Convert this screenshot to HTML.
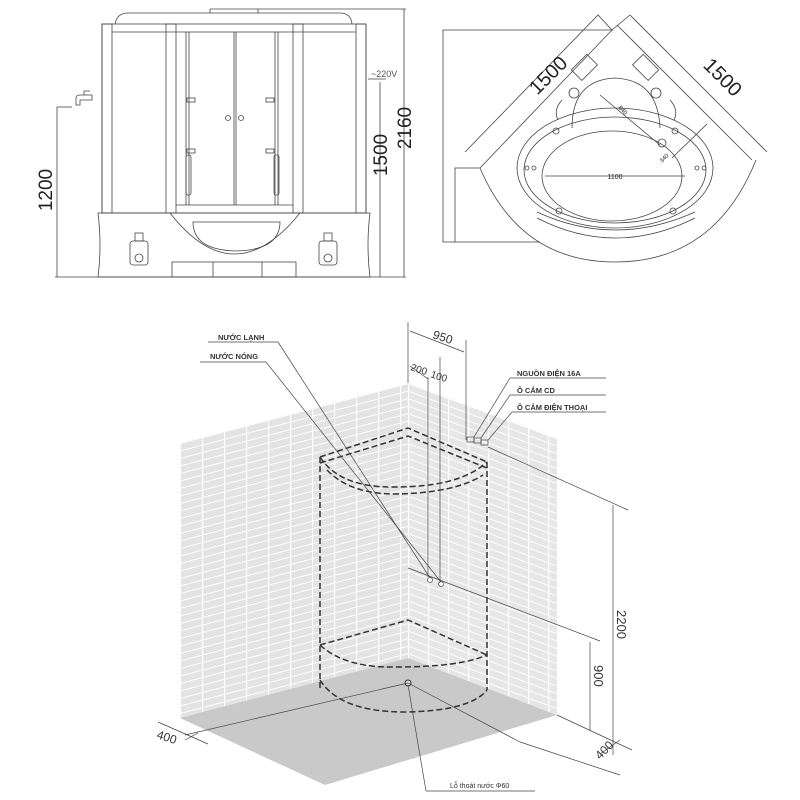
<!DOCTYPE html>
<html><head><meta charset="utf-8"><style>
html,body{margin:0;padding:0;background:#fff;}
svg{display:block;font-family:"Liberation Sans",sans-serif;}
</style></head><body>
<svg width="800" height="800" viewBox="0 0 800 800" xmlns="http://www.w3.org/2000/svg">
<defs>
<pattern id="tl" width="22" height="7.5" patternUnits="userSpaceOnUse" patternTransform="translate(180,443) skewY(-14.7)">
<rect width="22" height="7.5" fill="#e3e3e3"/>
<line x1="0" y1="0.5" x2="22" y2="0.5" stroke="#fff" stroke-width="1"/>
<line x1="0.5" y1="0" x2="0.5" y2="7.5" stroke="#fff" stroke-width="1.2"/>
</pattern>
<pattern id="tr" width="20" height="7.5" patternUnits="userSpaceOnUse" patternTransform="translate(408,383) skewY(20.3)">
<rect width="20" height="7.5" fill="#e6e6e6"/>
<line x1="0" y1="0.5" x2="20" y2="0.5" stroke="#fff" stroke-width="1"/>
<line x1="0.5" y1="0" x2="0.5" y2="7.5" stroke="#fff" stroke-width="1.2"/>
</pattern>
</defs>

<!-- ===== Top-left elevation ===== -->
<g fill="none" stroke="#444" stroke-width="0.8">
<path d="M115,24 Q117,13 128,13 L340,13 Q351,13 352,24"/>
<rect x="102" y="24" width="264" height="189"/>
<line x1="112" y1="32" x2="356" y2="32"/>
<rect x="102" y="24" width="10" height="189"/>
<rect x="166" y="24" width="10" height="189"/>
<rect x="293" y="24" width="10" height="189"/>
<rect x="356" y="24" width="10" height="189"/>
<line x1="186" y1="32" x2="186" y2="205"/><line x1="189" y1="32" x2="189" y2="205"/>
<line x1="275" y1="32" x2="275" y2="205"/><line x1="278" y1="32" x2="278" y2="205"/>
<line x1="234" y1="32" x2="234" y2="205"/><line x1="236" y1="32" x2="236" y2="205"/>
<line x1="176" y1="205" x2="293" y2="205"/>
<circle cx="228" cy="118" r="2.5"/><circle cx="241" cy="118" r="2.5"/>
<rect x="187" y="98" width="8" height="4"/><rect x="266" y="98" width="8" height="4"/>
<rect x="187" y="149" width="8" height="4"/><rect x="266" y="149" width="8" height="4"/>
<rect x="186" y="155" width="5" height="40" rx="2"/><rect x="274" y="155" width="5" height="40" rx="2"/>
<path d="M98,213 L370,213 Q366,245 370,277 L98,277 Q102,245 98,213Z"/>
<path d="M170,213 Q234,295 300,213"/>
<path d="M193,222 L280,222 Q280,250 236,251 Q193,250 193,222Z"/>
<rect x="172" y="262" width="124" height="15"/>
<line x1="213" y1="262" x2="213" y2="277"/><line x1="262" y1="262" x2="262" y2="277"/>
<rect x="135" y="233" width="8" height="8"/><rect x="130" y="241" width="18" height="24" rx="3"/><circle cx="139" cy="258" r="4"/>
<rect x="324" y="233" width="8" height="8"/><rect x="319" y="241" width="18" height="24" rx="3"/><circle cx="328" cy="258" r="4"/>
<path d="M76,105 L76,98 Q76,95 80,95 L92,95 L92,100 L80,100 L80,105Z"/>
<path d="M84,95 L84,91 L90,91"/>
<path d="M57,107 L72,107"/>
<line x1="57" y1="107" x2="57" y2="277"/>
<line x1="55" y1="277" x2="406" y2="277"/>
<line x1="380" y1="82" x2="380" y2="277"/><line x1="368" y1="79" x2="386" y2="79"/>
<line x1="404" y1="9" x2="404" y2="277"/>
<line x1="210" y1="9" x2="406" y2="9"/><line x1="210" y1="9" x2="210" y2="13"/><line x1="258" y1="9" x2="258" y2="13"/>
</g>
<g fill="#222">
<text x="371" y="77" font-size="9" fill="#555">~220V</text>
<text transform="translate(52,190) rotate(-90)" font-size="19" text-anchor="middle">1200</text>
<text transform="translate(387,155) rotate(-90)" font-size="19" text-anchor="middle">1500</text>
<text transform="translate(411,128) rotate(-90)" font-size="19" text-anchor="middle">2160</text>
</g>

<!-- ===== Top-right plan ===== -->
<g fill="none" stroke="#444" stroke-width="0.8">
<path d="M613,30 L443,30 L443,242 L540,242"/>
<path d="M455,242 L455,168 L480,168"/>
<path d="M465,152 L598,15 L612,30"/>
<path d="M480,168 L612,30"/>
<path d="M630,15 L767,152"/><path d="M617,25 L752,160"/>
<path d="M612,30 L630,15"/>
<path d="M480,168 Q520,262 615,262 Q715,262 756,160"/>
<ellipse cx="612" cy="176" rx="70" ry="45"/>
<ellipse cx="615" cy="168" rx="98" ry="60"/>
<ellipse cx="615" cy="170" rx="91" ry="53"/>
<path d="M537,212 Q615,248 695,212"/>
<path d="M537,218 Q615,258 695,218"/>
<path d="M572,128 Q572,80 615,78 Q658,80 660,128"/>
<rect x="573" y="60" width="22" height="15" transform="rotate(-45 584 67)"/>
<rect x="635" y="60" width="22" height="15" transform="rotate(45 646 67)"/>
<circle cx="574" cy="93" r="5"/><circle cx="656" cy="93" r="5"/>
<path d="M562,100 Q553,110 558,120"/><path d="M670,100 Q679,110 674,120"/>
<circle cx="556" cy="131" r="3"/><circle cx="675" cy="131" r="3"/>
<circle cx="559" cy="211" r="3"/><circle cx="673" cy="211" r="3"/>
<circle cx="527" cy="168" r="2"/><circle cx="534" cy="168" r="2"/>
<circle cx="697" cy="168" r="2"/><circle cx="704" cy="168" r="2"/>
<circle cx="662" cy="143" r="4"/>
<line x1="600" y1="95" x2="660" y2="145"/>
<line x1="672" y1="158" x2="707" y2="124"/>
<line x1="545" y1="176" x2="685" y2="176"/>
</g>
<g fill="#222">
<text transform="translate(553,80) rotate(-45)" font-size="20" text-anchor="middle">1500</text>
<text transform="translate(718,82) rotate(45)" font-size="20" text-anchor="middle">1500</text>
<text x="615" y="179" font-size="7" text-anchor="middle">1100</text>
<text transform="translate(618,108) rotate(45)" font-size="6">840</text>
<text transform="translate(662,163) rotate(-45)" font-size="6">340</text>
</g>

<!-- ===== Bottom isometric ===== -->
<polygon points="180,443 408,383 408,658 180,718" fill="url(#tl)"/>
<polygon points="408,383 557,438 557,715 408,658" fill="url(#tr)"/>
<polygon points="180,718 408,658 557,715 325,785" fill="#c9c9c9"/>

<g fill="none" stroke="#333" stroke-width="1.5" stroke-dasharray="6,3">
<path d="M320,457 L408,428 L487,462"/>
<path d="M320,463 L408,436 L487,468"/>
<path d="M320,457 Q340,488 395,487 Q460,487 487,462"/>
<path d="M327,470 Q350,494 395,494 Q455,493 483,475"/>
<line x1="320" y1="457" x2="320" y2="690"/>
<line x1="487" y1="462" x2="487" y2="690"/>
<path d="M320,645 L408,620 L487,655"/>
<path d="M320,645 Q345,668 395,667 Q460,667 487,655"/>
<path d="M320,680 Q340,712 405,712 Q470,711 487,690"/>
</g>
<circle cx="408" cy="683" r="3" fill="#ddd" stroke="#333"/>

<g fill="none" stroke="#444" stroke-width="0.7">
<line x1="208" y1="342" x2="278" y2="342"/><line x1="278" y1="342" x2="430" y2="578"/>
<line x1="200" y1="362" x2="266" y2="362"/><line x1="266" y1="362" x2="441" y2="582"/>
<circle cx="430" cy="580" r="2.5" fill="#fff"/><circle cx="441" cy="584" r="2.5" fill="#fff"/>
<line x1="408" y1="322" x2="408" y2="383"/>
<line x1="466" y1="340" x2="466" y2="440"/>
<line x1="410" y1="331" x2="464" y2="352"/>
<line x1="428" y1="377" x2="428" y2="577"/>
<line x1="440" y1="357" x2="440" y2="583"/>
<line x1="410" y1="366" x2="428" y2="379"/>
<rect x="467" y="437" width="7" height="5"/><rect x="474" y="438" width="7" height="5"/><rect x="481" y="440" width="7" height="5"/>
<line x1="510" y1="378" x2="606" y2="378"/><line x1="510" y1="378" x2="474" y2="437"/>
<line x1="510" y1="395" x2="606" y2="395"/><line x1="510" y1="395" x2="481" y2="438"/>
<line x1="512" y1="412" x2="606" y2="412"/><line x1="512" y1="412" x2="488" y2="440"/>
<line x1="488" y1="447" x2="628" y2="510"/>
<line x1="408" y1="568" x2="600" y2="641"/>
<line x1="613" y1="505" x2="613" y2="755"/>
<line x1="590" y1="642" x2="590" y2="731"/>
<line x1="557" y1="715" x2="632" y2="750"/>
<line x1="520" y1="742" x2="620" y2="775"/>
<line x1="185" y1="735" x2="408" y2="683"/>
<line x1="408" y1="683" x2="520" y2="742"/>
<line x1="158" y1="722" x2="208" y2="744"/>
<line x1="185" y1="740" x2="198" y2="733"/>
<line x1="600" y1="754" x2="620" y2="740"/>
<line x1="408" y1="685" x2="426" y2="791"/><line x1="426" y1="791" x2="535" y2="791"/>
</g>
<g fill="#333">
<text transform="translate(432,338) rotate(18)" font-size="12">950</text>
<text transform="translate(410,370) rotate(18)" font-size="10">200</text>
<text transform="translate(430,377) rotate(18)" font-size="10">100</text>
<text x="218" y="340" font-size="7.5" font-weight="bold">NƯỚC LẠNH</text>
<text x="210" y="359" font-size="7.5" font-weight="bold">NƯỚC NÓNG</text>
<text x="517" y="376" font-size="7.5" font-weight="bold">NGUỒN ĐIỆN 16A</text>
<text x="517" y="393" font-size="7.5" font-weight="bold">Ô CẮM CD</text>
<text x="517" y="410" font-size="7.5" font-weight="bold">Ô CẮM ĐIỆN THOẠI</text>
<text transform="translate(617,610) rotate(90)" font-size="13">2200</text>
<text transform="translate(594,665) rotate(90)" font-size="13">900</text>
<text transform="translate(156,738) rotate(18)" font-size="12">400</text>
<text transform="translate(600,760) rotate(-45)" font-size="12">400</text>
<text x="450" y="788" font-size="7">Lỗ thoát nước  Φ60</text>
</g>
</svg>
</body></html>
